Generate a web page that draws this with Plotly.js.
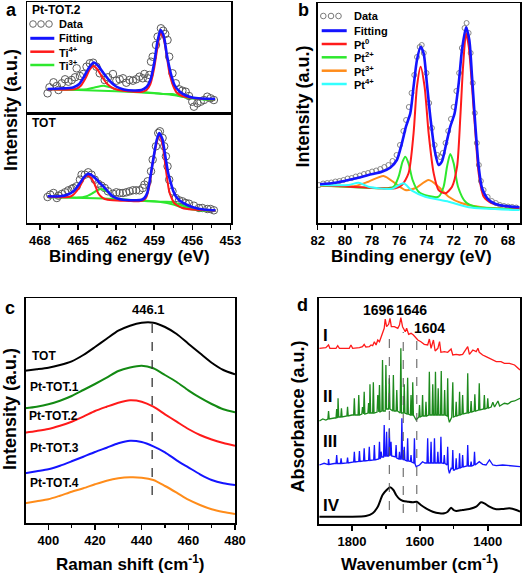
<!DOCTYPE html>
<html><head><meta charset="utf-8">
<script src="https://cdn.plot.ly/plotly-3.0.1.min.js"></script>
<style>html,body{margin:0;padding:0;background:#fff}#chart{width:524px;height:575px}</style>
</head><body><div id="chart"></div>
<script>
// ================= DATA =================
// Panel a (Ti 2p XPS) – upper: Pt-TOT.2
const aUpDataE = [467.40,467.25,466.93,466.67,466.54,466.28,466.02,465.76,465.50,465.24,465.11,464.85,464.59,464.33,464.07,463.81,463.55,463.29,462.90,462.64,462.25,461.98,461.72,461.46,461.20,460.94,460.68,460.42,460.16,459.90,459.77,459.51,459.38,459.25,459.12,458.86,458.73,458.47,458.29,458.13,457.95,457.82,457.56,457.30,457.04,456.78,456.52,456.26,456.00,455.87,455.60,455.34,455.08,454.82,454.56,454.30];
const aUpDataI = [19.7,25.7,30.7,27.0,23.0,29.7,33.7,31.3,33.0,35.7,44.7,37.0,39.0,46.3,49.7,50.3,46.3,39.7,33.0,35.7,39.0,32.3,33.7,34.7,30.3,33.0,32.3,33.7,36.3,34.7,39.0,34.7,38.0,51.3,56.3,68.0,76.3,84.7,82.3,79.0,73.0,56.3,39.7,29.7,23.7,22.3,21.3,17.0,11.3,6.3,9.7,11.3,13.0,16.3,14.7,13.0];
const aUpFitE = [467.4,466.4,465.4,464.9,464.5,464.1,463.75,463.4,463.0,462.5,462.0,461.4,460.6,460.0,459.6,459.3,459.0,458.75,458.5,458.25,458.0,457.7,457.4,457.0,456.5,456.0,455.3,454.2];
const aUpFitI = [24,24.5,25.5,29,37,46,50.5,47,40,32,26.5,23.5,22.5,23,26,33,50,71,83,77,58,40,28,21.5,17.5,15.5,14.5,14];
const aUpTi4E = [467.4,466.0,465.2,464.8,464.4,464.1,463.8,463.5,463.1,462.7,462.2,461.6,460.8,460.0,459.6,459.3,459.0,458.75,458.5,458.25,458.0,457.8,457.5,457.2,456.8,456.0,455.0,454.2];
const aUpTi4I = [23.7,23.3,24,27,35,43,47,44,36,29,24.5,22.5,21.5,21,23,29,45,65,80.5,74,56,40,27,20,17,15,14,13.5];
const aUpTi3E = [467.4,465.5,464.3,463.7,463.0,462.4,461.8,460.5,459.0,458.2,457.6,457.1,456.6,455.5,454.2];
const aUpTi3I = [24,23.6,23.8,25.5,27.3,25.5,22.8,21.5,20,19,19,17.5,15.8,14,13];
const aUpBgE = [467.4,462.0,459.0,457.8,457.0,456.2,455.0,454.2];
const aUpBgI = [24,21.8,19.8,18.5,16.8,15,13.8,13];
// Panel a – lower: TOT
const aLowDataE = [467.40,467.19,466.93,466.67,466.54,466.28,466.02,465.76,465.50,465.37,465.11,464.85,464.72,464.46,464.20,463.94,463.68,463.42,463.16,462.90,462.64,462.25,461.98,461.72,461.46,461.20,460.94,460.68,460.42,460.16,459.90,459.77,459.51,459.25,459.12,458.86,458.68,458.55,458.34,458.21,458.08,457.95,457.82,457.56,457.30,457.04,456.78,456.52,456.26,455.87,455.47,455.21,454.82,454.56,454.30];
const aLowDataI = [25.0,27.3,29.0,24.0,26.3,28.0,29.7,31.7,33.0,34.0,35.7,42.3,47.3,47.3,49.7,47.3,42.3,38.3,36.3,34.0,30.7,28.3,29.7,29.0,29.0,29.7,30.7,31.7,31.7,31.7,34.0,37.3,40.7,50.7,62.3,75.7,89.0,90.7,84.0,75.7,65.7,55.7,42.3,30.7,24.0,21.7,20.7,19.0,18.3,16.3,14.0,14.0,13.0,13.0,11.7];
const aLowFitE = [467.4,466.4,465.8,465.37,465.1,464.85,464.55,464.25,464.0,463.81,463.5,463.29,463.0,462.77,462.5,462.25,461.9,461.46,460.8,460.42,460.0,459.77,459.55,459.38,459.2,458.99,458.8,458.6,458.45,458.34,458.2,458.08,457.9,457.69,457.5,457.3,457.0,456.78,456.4,456.0,455.5,454.95,454.17];
const aLowFitI = [25.7,25.7,27.5,30.7,34.5,39,44.5,48,47.5,45.7,42,39,35.5,32.3,28.5,25.7,23.5,22.3,21.8,21.7,22.3,24,29,39,53,69,82,89,86,82.3,72,62.3,49,39,31,25.7,21.5,19.7,17,15,13.3,12.3,11.7];
const aLowTi4E = [467.4,466.0,465.6,465.37,465.1,464.85,464.6,464.33,464.05,463.81,463.6,463.42,463.15,462.9,462.25,461.0,460.42,459.9,459.65,459.4,459.12,458.86,458.6,458.34,458.08,457.82,457.6,457.43,457.1,456.78,456.0,455.0,454.17];
const aLowTi4I = [25.3,24.8,25.5,27.3,31,35.7,42,46.3,45,40.7,35,29,25,23,21.7,21,20.7,21.5,24,35,59,76,87.3,77.3,52.3,30.7,23,19,16,14,12.5,11.8,11.3];
const aLowTi3E = [467.4,466.0,465.0,464.4,463.9,463.5,463.16,462.8,462.4,462.0,461.0,460.0,459.0,458.2,457.6,457.2,456.8,456.2,455.5,454.8,454.17];
const aLowTi3I = [25,24.6,24.4,25.5,28.5,31.5,33,31,27,23.5,22,21.2,20.5,20.2,20,18.5,16.5,14.5,13,11.8,11];
const aLowBgE = [467.4,463.0,460.0,458.5,457.5,456.8,456.0,455.0,454.17];
const aLowBgI = [25,23.5,21.5,20,17.5,14.5,12.5,11.3,11];

// Panel b (Pt 4f XPS)
const bDataE = [81.9,81.6,81.3,81.0,80.7,80.4,80.1,79.8,79.5,79.2,78.9,78.6,78.3,78.0,77.7,77.4,77.1,76.8,76.5,76.2,75.95,75.7,75.5,75.3,75.1,74.9,74.7,74.5,74.35,74.2,74.0,73.8,73.6,73.4,73.2,73.0,72.8,72.6,72.4,72.2,72.0,71.8,71.6,71.4,71.2,71.05,70.9,70.75,70.6,70.45,70.3,70.15,70.0,69.8,69.5,69.2,68.9,68.6,68.3,68.0,67.7,67.4];
const bDataI = [38,39.5,40,40.5,41.5,42,43,44.5,45,46.5,47.5,49,50,51.5,52.5,54,56,58,62,68,78,92,103,116,130,148,166,176,178,170,150,120,95,78,68,66,70,80,92,104,116,132,150,175,195,200,190,170,140,110,80,58,42,33,26,22,20,18,17,16.5,16,15.5];
const bFitE = [81.83,80.72,79.74,79.0,78.27,77.28,76.67,76.18,75.81,75.51,75.19,74.95,74.70,74.43,74.21,73.97,73.72,73.40,73.11,72.87,72.54,72.25,71.93,71.63,71.39,71.09,70.85,70.65,70.40,70.16,69.91,69.42,68.68,67.16];
const bFitI = [38.7,40.3,43,45.3,48,51.3,55.3,63,79.7,96.3,109.7,136.3,163,176.3,169.7,139.7,106.3,73,58,61.3,79.7,96.3,109.7,139.7,173,195.7,183,146.3,96.3,56.3,34.7,23,18,15.7];
const bPt0E = [81.83,77.28,76.3,75.81,75.32,74.95,74.70,74.43,74.14,73.84,73.47,73.11,72.61,72.12,71.75,71.51,71.31,71.09,70.89,70.65,70.40,70.16,69.79,69.17,67.16];
const bPt0I = [38,34.7,34.7,38,49.7,89.7,136.3,156.3,136.3,89.7,49.7,33,29.7,36.3,56.3,106.3,156.3,189.7,176.3,136.3,89.7,49.7,26.3,19.7,14.7];
const bPt2E = [81.83,77.28,76.42,76.05,75.76,75.56,75.32,75.02,74.58,73.84,73.11,72.74,72.49,72.25,72.0,71.68,71.14,70.40,67.16];
const bPt2I = [37.7,34.7,36.3,46.3,61.3,66.3,59.7,43,31.3,27,26.3,36.3,56.3,69,59.7,36.3,21.3,16.3,13.7];
const bPt3E = [81.83,79.25,78.27,77.16,76.3,75.56,74.83,73.84,73.11,72.37,71.39,69.91,67.16];
const bPt3I = [37.3,37,41.3,47,39.7,33,34.7,43,36.3,26.3,19.7,15.7,13.7];
const bPt4E = [81.83,79.74,79.0,78.27,76.55,75.69,75.07,74.09,72.37,70.89,67.16];
const bPt4I = [38,38,40.3,36.3,34.3,39.7,32.3,26.3,21.3,15.7,13];

// Panel c (Raman)
const ramanShift = [390,395,400,405,410,415,420,425,430,435,440,445,450,455,460,465,470,475,480];
const ramanTOT  = [152.3,153.7,155.3,158,161.7,168,176,184.3,192.3,197.3,200.3,200.3,196,189,179.3,169.7,160.3,153,148.7];
const ramanPt1  = [114.7,116.3,118.7,122.3,127,133,139,145.3,152,155.5,157.3,154.7,148,141,132.7,125.3,119,113.7,110.7];
const ramanPt2  = [90.3,92,94,97.3,101.3,106.3,112,116.3,120.3,122.7,121.3,116.3,108.7,101.3,94,88,83.5,80,77.3];
const ramanPt3  = [49.7,51.7,53.7,57.3,61.7,66.3,71,75.3,79.7,82.3,81,76.7,70.7,62.7,55.7,48.7,43,39.7,38];
const ramanPt4  = [19.7,21.7,23.7,27.3,31.3,34.7,38.7,42.3,44.7,45.7,45.3,43,37,30.3,23.3,18,13.7,11,9];
const ramanNames = ['TOT','Pt-TOT.1','Pt-TOT.2','Pt-TOT.3','Pt-TOT.4'];
const ramanPeakLabel = '446.1';
const ramanPeakPos = 444.5;

// Panel d (FTIR)
const spI_W = [1896,1877,1869,1865,1847,1842,1837,1808,1803,1798,1778,1769,1764,1759,1749,1744,1739,1734,1729,1724,1719,1714,1710,1705,1702,1698,1692,1688,1684,1675,1665,1660,1656,1651,1643,1639,1633,1626,1619,1613,1606,1597,1587,1577,1572,1567,1560,1555,1547,1542,1538,1528,1518,1508,1503,1493,1483,1474,1464,1459,1454,1444,1434,1429,1425,1415,1405,1395,1385,1375,1361,1351,1336,1321,1305];
const spI_A = [172.7,173.3,176,172.7,172.7,175.3,172.7,172.7,176,172.7,173.3,174.3,176.7,174,174.3,176,175.3,179.3,176,181,179.3,184.3,186.7,192.7,202,194.3,196.7,202.7,194.3,194.3,192.7,196,203.3,194.3,189.3,192.7,186.7,187.7,186,183.3,181,179.3,176.7,176,182,172.7,181,170,172.7,179.3,168.7,169.3,168.7,172,166,166.7,166,166.7,171,174.3,166.7,171,169.3,172.7,168.7,166,164.3,162.7,161,159.3,159.3,157.7,157.7,156,151];
const spII_W = [1896,1886,1877,1871,1869,1867,1852,1847,1845,1843,1842,1841,1839,1833,1831,1829,1820,1815,1813,1811,1800,1795,1793,1791,1782,1780,1778,1771,1769,1767,1766,1764,1762,1753,1751,1749,1748,1747,1745,1739,1737,1735,1726,1724,1722,1721,1719,1717,1712,1710,1708,1702,1700,1698,1692,1690,1688,1680,1678,1676,1670,1668,1666,1658,1656,1654,1648,1646,1644,1638,1636,1634,1628,1626,1624,1622,1621,1619,1611,1603,1601,1599,1594,1592,1590,1584,1582,1580,1574,1572,1570,1564,1562,1560,1556,1554,1552,1548,1546,1544,1539,1537,1535,1529,1527,1525,1520,1518,1516,1513,1506,1503,1501,1495,1493,1491,1485,1483,1481,1476,1474,1472,1461,1459,1457,1451,1449,1447,1440,1438,1436,1427,1425,1423,1412,1410,1408,1402,1400,1398,1390,1385,1380,1370,1365,1351,1341,1331,1321,1305];
const spII_A = [100,102,101,102,110,102,103,103,112,103,104,122.7,104,104,112.7,104,105,105,114.3,105,106,106,122.7,106,106,126,106,107,114,107,107,129.3,107,108,118,108,108,136.7,108,108,138.7,108,109,126,109,109,136,109,110,161,110,110,156,112,112,142.7,112,110,146,110,110,131,110,108,172.7,108,108,136.7,108,107,143.3,107,106,126,106,106,138.7,106,101,104,116,104,105,126,105,105,119.3,105,106,149.3,106,106,136.7,106,106,149.3,106,106,132.7,106,106,150,106,106,131,106,105,142.7,103,98.7,104,138.7,104,105,119.3,105,106,129.3,106,107,126,107,108,147.7,108,109,120,109,110,126.7,110,111,137.7,111,112,126,112,113,122.7,113,114,118.7,114,120,115,117.7,117,119.3,120,122.7];
const spIII_W = [1896,1882,1872,1870,1869,1867,1852,1847,1845,1843,1834,1832,1830,1815,1813,1811,1795,1793,1791,1780,1778,1776,1766,1764,1762,1751,1749,1747,1736,1734,1732,1721,1719,1717,1716,1714,1712,1707,1705,1703,1700,1698,1696,1692,1690,1688,1686,1685,1683,1672,1670,1668,1662,1660,1658,1655,1653,1651,1648,1646,1644,1638,1636,1634,1628,1626,1624,1618,1616,1614,1611,1601,1592,1585,1579,1577,1575,1569,1567,1565,1559,1557,1555,1549,1547,1545,1540,1538,1536,1530,1528,1526,1520,1518,1516,1513,1508,1505,1503,1501,1498,1495,1493,1491,1485,1483,1481,1476,1474,1472,1461,1459,1457,1451,1449,1447,1441,1439,1437,1425,1415,1405,1395,1385,1375,1356,1336,1316,1305];
const spIII_A = [56,57.7,56.7,56.5,62,56.5,57.5,57.5,66,57.5,57.5,62.7,57.5,58,63.3,58,59,69.3,59,59.5,70,59.5,60,72.7,60,60.5,74.3,60.5,61,76,61,62,79.3,62,63,69.3,64,64,96,65,65,89.3,65,65,92.7,66,66,79.3,65,64,76,63,62,69.3,62,62,102.7,62,61,74.3,61,60,82.7,60,59.5,66,59,58,82.7,57,54.3,56,59.3,58,58,82.7,58,58,79.3,58,58,82.7,58,58,69.3,58,58,84.3,58,57.5,66,57.5,56,74.3,52,47.7,52.7,52,71,51,51,52,62.7,52,53,67.7,53,54,66,54,55,76,55,55,59.3,55,56,69.3,56,59.3,56.7,56,61,56,55.3,56,55.3,55,54.3];
const spIV_W = [1896,1808,1759,1739,1724,1710,1698,1688,1678,1670,1660,1649,1636,1621,1609,1597,1582,1562,1542,1528,1518,1508,1501,1493,1474,1454,1434,1420,1410,1395,1375,1356,1336,1316,1305];
const spIV_A = [4.3,4.3,5,7.7,14.3,26,31,33.7,31,26,22,20,19.3,18.7,19.3,16,12.7,9.3,7.7,7.7,9.3,13.3,11,10,11,12,14.3,18.7,17.7,14.3,11.7,12,12.7,11,9.3];
const ftirPeakLabels = ['1696','1646','1604'];
const ftirPeakPos = [1690,1649,1609];
const ftirNames = ['I','II','III','IV'];

// ================= LAYOUT HELPERS =================
const W = 524, H = 575;
const FONT = 'Liberation Sans, Arial, Helvetica, sans-serif';
const PX = v => v / W, PY = v => 1 - v / H;

const BLUE = '#1414ff', RED = '#ff1a1a', LIME = '#2ee82e', ORANGE = '#ff8c1a', CYAN = '#33ffff';
const DGREEN = '#138a13';

function line(x, y, xa, ya, color, width, shape) {
  return {x, y, xaxis: xa, yaxis: ya, type: 'scatter', mode: 'lines',
    line: {color, width, shape: shape || 'spline', smoothing: 0.7}, hoverinfo: 'skip'};
}
function pts(x, y, xa, ya, size, color, lw) {
  return {x, y, xaxis: xa, yaxis: ya, type: 'scatter', mode: 'markers',
    marker: {symbol: 'circle-open', size, color, line: {width: lw, color}}, hoverinfo: 'skip'};
}

const traces = [
  // a upper
  pts(aUpDataE, aUpDataI, 'x', 'y', 7.5, '#5a5a5a', 1),
  line(aUpBgE, aUpBgI, 'x', 'y', LIME, 2),
  line(aUpTi3E, aUpTi3I, 'x', 'y', LIME, 2),
  line(aUpTi4E, aUpTi4I, 'x', 'y', RED, 2),
  line(aUpFitE, aUpFitI, 'x', 'y', BLUE, 2.6),
  // a lower
  pts(aLowDataE, aLowDataI, 'x2', 'y2', 7.5, '#5a5a5a', 1),
  line(aLowBgE, aLowBgI, 'x2', 'y2', LIME, 2),
  line(aLowTi3E, aLowTi3I, 'x2', 'y2', LIME, 2),
  line(aLowTi4E, aLowTi4I, 'x2', 'y2', RED, 2),
  line(aLowFitE, aLowFitI, 'x2', 'y2', BLUE, 2.6),
  // b
  pts(bDataE, bDataI, 'x3', 'y3', 5, '#7a7a7a', 0.9),
  line(bPt3E, bPt3I, 'x3', 'y3', ORANGE, 2),
  line(bPt2E, bPt2I, 'x3', 'y3', LIME, 2),
  line(bPt0E, bPt0I, 'x3', 'y3', RED, 2),
  line(bPt4E, bPt4I, 'x3', 'y3', CYAN, 2),
  line(bFitE, bFitI, 'x3', 'y3', BLUE, 2.6),
  // c
  line(ramanShift, ramanTOT, 'x4', 'y4', '#000000', 2),
  line(ramanShift, ramanPt1, 'x4', 'y4', DGREEN, 2),
  line(ramanShift, ramanPt2, 'x4', 'y4', RED, 2),
  line(ramanShift, ramanPt3, 'x4', 'y4', BLUE, 2),
  line(ramanShift, ramanPt4, 'x4', 'y4', ORANGE, 2),
  // d
  line(spI_W, spI_A, 'x5', 'y5', RED, 1.3, 'linear'),
  line(spII_W, spII_A, 'x5', 'y5', '#1d8a1d', 1.3, 'linear'),
  line(spIII_W, spIII_A, 'x5', 'y5', BLUE, 1.3, 'linear'),
  line(spIV_W, spIV_A, 'x5', 'y5', '#000000', 2, 'spline')
];

const tickFont = {family: FONT, size: 13, color: '#000', weight: 'bold'};
function xAx(domain, range, anchor, dtick, tick0, minorD, labels) {
  const o = {domain, range, anchor, showline: true, linecolor: '#000', linewidth: 1.5, mirror: true,
    showgrid: false, zeroline: false, fixedrange: true};
  if (labels) {
    Object.assign(o, {ticks: 'outside', ticklen: 5, tickwidth: 1.5, tickcolor: '#000',
      dtick, tick0, tickfont: tickFont, showticklabels: true,
      minor: {ticks: 'outside', ticklen: 3, tickwidth: 1.2, tickcolor: '#000', dtick: minorD, tick0, showgrid: false}});
  } else {
    Object.assign(o, {ticks: '', showticklabels: false});
  }
  return o;
}
function yAx(domain, range, anchor) {
  return {domain, range, anchor, showline: true, linecolor: '#000', linewidth: 1.5, mirror: true,
    showgrid: false, zeroline: false, ticks: '', showticklabels: false, fixedrange: true};
}

function txt(x, y, text, size, anchor, angle) {
  return {xref: 'paper', yref: 'paper', x: PX(x), y: PY(y), text, showarrow: false,
    xanchor: anchor || 'left', yanchor: 'middle', textangle: angle || 0,
    font: {family: FONT, size, color: '#000', weight: 'bold'}};
}

const annotations = [
  txt(11.5, 10, 'a', 18, 'center'), txt(303, 10, 'b', 18, 'center'),
  txt(10, 308, 'c', 18, 'center'), txt(302, 305, 'd', 18, 'center'),
  txt(10.5, 110.5, 'Intensity (a.u.)', 18, 'center', -90),
  txt(303, 106.5, 'Intensity (a.u.)', 18, 'center', -90),
  txt(10, 409, 'Intensity (a.u.)', 18, 'center', -90),
  txt(297.5, 417, 'Absorbance (a.u.)', 18, 'center', -90),
  txt(129, 256.7, 'Binding energy (eV)', 17, 'center'),
  txt(411.3, 256.7, 'Binding energy (eV)', 17, 'center'),
  txt(130, 563, 'Raman shift (cm<sup>-1</sup>)', 17, 'center'),
  txt(419, 563, 'Wavenumber (cm<sup>-1</sup>)', 17, 'center'),
  // panel a legend/labels
  txt(29.5, 10, 'Pt-TOT.2', 12), txt(30.3, 123, 'TOT', 12),
  txt(57, 24, 'Data', 11), txt(57, 38.3, 'Fitting', 11),
  txt(57, 51.7, 'Ti<sup>4+</sup>', 11), txt(57, 65, 'Ti<sup>3+</sup>', 11),
  // panel b legend
  txt(351.7, 16, 'Data', 11), txt(351.7, 30.7, 'Fitting', 11),
  txt(351.7, 44, 'Pt<sup>0</sup>', 11), txt(351.7, 57.3, 'Pt<sup>2+</sup>', 11),
  txt(351.7, 70.7, 'Pt<sup>3+</sup>', 11), txt(351.7, 84, 'Pt<sup>4+</sup>', 11),
  // panel c
  txt(148, 309, ramanPeakLabel, 13, 'center'),
  // panel d
  txt(378.3, 310, ftirPeakLabels[0], 14, 'center'),
  txt(411, 310, ftirPeakLabels[1], 14, 'center'),
  txt(429.3, 328.3, ftirPeakLabels[2], 14, 'center')
];
const cLabelPos = [[30, 355.7], [28, 386.7], [27, 415.7], [28, 448], [28, 483.3]];
ramanNames.forEach((n, i) => annotations.push(txt(cLabelPos[i][0], cLabelPos[i][1], n, 12)));
const dLabelY = [335, 396.7, 441.7, 505];
ftirNames.forEach((n, i) => annotations.push(txt(320.5, dLabelY[i], n, 17)));

const shapes = [];
function legLine(x0, x1, y, color, w) {
  shapes.push({type: 'line', xref: 'paper', yref: 'paper', x0: PX(x0), x1: PX(x1), y0: PY(y), y1: PY(y),
    line: {color, width: w}});
}
function legCircle(cx, cy, r, color) {
  shapes.push({type: 'circle', xref: 'paper', yref: 'paper', x0: PX(cx - r), x1: PX(cx + r),
    y0: PY(cy + r), y1: PY(cy - r), line: {color, width: 1}});
}
[33, 41, 49].forEach(cx => legCircle(cx, 24, 3.3, '#6a6a6a'));
legLine(30.3, 54.3, 38.3, BLUE, 3);
legLine(30.3, 54.3, 51.7, RED, 2.5);
legLine(30.3, 54.3, 65, LIME, 2.5);
[323.3, 331, 338.5].forEach(cx => legCircle(cx, 16, 2.8, '#7a7a7a'));
legLine(321.7, 346.7, 30.7, BLUE, 3);
legLine(321.7, 346.7, 44, RED, 2.5);
legLine(321.7, 346.7, 57.3, LIME, 2.5);
legLine(321.7, 346.7, 70.7, ORANGE, 2.5);
legLine(321.7, 346.7, 84, CYAN, 2.5);
// dashed reference lines
shapes.push({type: 'line', xref: 'x4', yref: 'y4', x0: ramanPeakPos, x1: ramanPeakPos, y0: 28, y1: 208,
  line: {color: '#333', width: 1.3, dash: 'dash'}});
const dTop = [191, 189, 184], dBot = [11, 8, 9];
ftirPeakPos.forEach((p, i) => shapes.push({type: 'line', xref: 'x5', yref: 'y5', x0: p, x1: p,
  y0: dBot[i], y1: dTop[i], line: {color: '#555', width: 1, dash: 'dash'}}));

const layout = {
  width: W, height: H, margin: {l: 0, r: 0, t: 0, b: 0},
  paper_bgcolor: '#fff', plot_bgcolor: '#fff', showlegend: false,
  font: {family: FONT, color: '#000'},
  xaxis:  xAx([PX(27), PX(231)], [469.02, 452.95], 'y', 3, 468, 1.5, false),
  yaxis:  yAx([PY(113), PY(2)], [0, 111], 'x'),
  xaxis2: xAx([PX(27), PX(231)], [469.02, 452.95], 'y2', 3, 468, 1.5, true),
  yaxis2: yAx([PY(223), PY(113)], [-1, 109], 'x2'),
  xaxis3: xAx([PX(317.7), PX(520.3)], [82, 67.1], 'y3', 2, 68, 1, true),
  yaxis3: yAx([PY(223), PY(3)], [0, 220], 'x3'),
  xaxis4: xAx([PX(25.7), PX(235)], [390.3, 480], 'y4', 20, 400, 10, true),
  yaxis4: yAx([PY(523), PY(298)], [0, 225], 'x4'),
  xaxis5: xAx([PX(318.7), PX(520)], [1898, 1305], 'y5', 200, 1400, 100, true),
  yaxis5: yAx([PY(524), PY(298)], [-3, 223], 'x5'),
  annotations, shapes
};

Plotly.newPlot('chart', traces, layout, {staticPlot: true, displayModeBar: false});
</script></body></html>
